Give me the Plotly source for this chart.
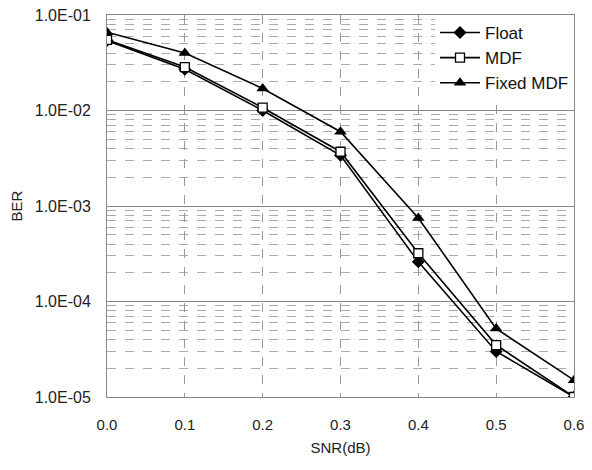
import plotly.graph_objects as go

snr = [0.0, 0.1, 0.2, 0.3, 0.4, 0.5, 0.6]
float_ber = [5.4e-2, 2.7e-2, 1.0e-2, 3.4e-3, 2.6e-4, 3.0e-5, 1.0e-5]
mdf_ber = [5.5e-2, 2.85e-2, 1.07e-2, 3.7e-3, 3.2e-4, 3.5e-5, 1.0e-5]
fixed_mdf_ber = [6.6e-2, 4.0e-2, 1.7e-2, 6.0e-3, 7.5e-4, 5.2e-5, 1.5e-5]

x_tick_vals = [0.0, 0.1, 0.2, 0.3, 0.4, 0.5, 0.6]
x_tick_text = ["0.0", "0.1", "0.2", "0.3", "0.4", "0.5", "0.6"]
y_tick_vals = [1e-1, 1e-2, 1e-3, 1e-4, 1e-5]
y_tick_text = ["1.0E-01", "1.0E-02", "1.0E-03", "1.0E-04", "1.0E-05"]

fig = go.Figure()
fig.add_trace(go.Scatter(
    x=snr, y=float_ber, name="Float", mode="lines+markers",
    line=dict(color="black", width=1.6),
    marker=dict(symbol="diamond", size=10, color="black"),
))
fig.add_trace(go.Scatter(
    x=snr, y=mdf_ber, name="MDF", mode="lines+markers",
    line=dict(color="black", width=1.6),
    marker=dict(symbol="square", size=9, color="white", line=dict(color="black", width=1.3)),
))
fig.add_trace(go.Scatter(
    x=snr, y=fixed_mdf_ber, name="Fixed MDF", mode="lines+markers",
    line=dict(color="black", width=1.6),
    marker=dict(symbol="triangle-up", size=11, color="black"),
))

fig.update_layout(
    width=576, height=454,
    margin=dict(l=99, r=10, t=7, b=65, autoexpand=False),
    paper_bgcolor="white", plot_bgcolor="white",
    font=dict(family="Liberation Sans, Arial, sans-serif", size=16, color="#222"),
    showlegend=True,
    legend=dict(
        x=1, y=1, xanchor="right", yanchor="top",
        bgcolor="white", borderwidth=0,
        font=dict(size=17, color="#111"),
        itemwidth=40, tracegroupgap=4,
    ),
    xaxis=dict(
        range=[0, 0.6], tickvals=x_tick_vals, ticktext=x_tick_text,
        tickfont=dict(size=15),
        showgrid=True, gridcolor="#999", griddash="dash", gridwidth=1,
        showline=True, linecolor="#888", mirror=True, zeroline=False,
        ticks="", title=dict(text="SNR(dB)", standoff=10, font=dict(size=15)),
        ticklabelstandoff=14, ticklabeloverflow="allow",
    ),
    yaxis=dict(
        type="log", range=[-5, -1], tickvals=y_tick_vals, ticktext=y_tick_text,
        showgrid=True, gridcolor="#888", gridwidth=1,
        minor=dict(showgrid=True, gridcolor="#aaa", griddash="dash", dtick="D1"),
        showline=True, linecolor="#888", mirror=True, zeroline=False,
        ticks="", title=dict(text="BER", standoff=26, font=dict(size=15)),
        ticklabelstandoff=12, ticklabeloverflow="allow",
    ),
)

fig.write_html("out.html")
